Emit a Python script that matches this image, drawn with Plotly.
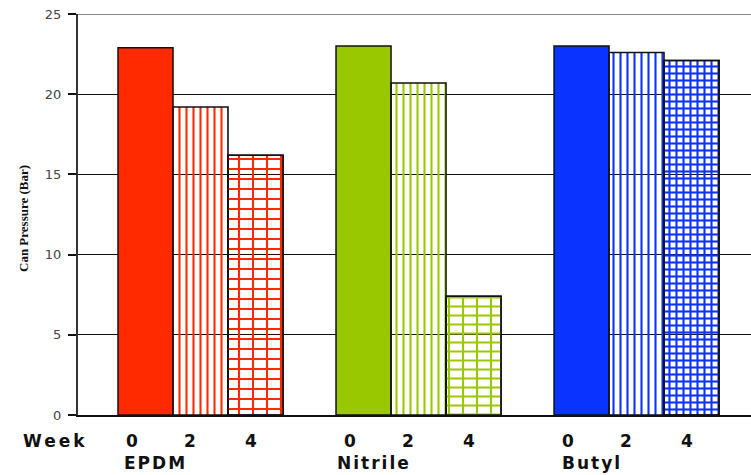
import plotly.graph_objects as go

# --- data -------------------------------------------------------------
materials = ["EPDM", "Nitrile", "Butyl"]
weeks = ["0", "2", "4"]
pressure_week0 = [22.9, 23.0, 23.0]
pressure_week2 = [19.2, 20.7, 22.6]
pressure_week4 = [16.2, 7.4, 22.1]
y_ticks = [0, 5, 10, 15, 20, 25]

# --- styling ----------------------------------------------------------
material_colors = ["#FF2A00", "#99C800", "#0A33FF"]
bargap = 0.243
n_weeks = len(weeks)
bar_w = (1 - bargap) / n_weeks          # width of one bar in axis units
x_pos = list(range(len(materials)))
outline = dict(color="#111111", width=1.5)

fig = go.Figure()

# week 0: solid fill
fig.add_trace(go.Bar(
    x=x_pos, y=pressure_week0, offsetgroup="w0",
    marker=dict(color=material_colors, line=outline),
))

# week 2: vertical hatching
fig.add_trace(go.Bar(
    x=x_pos, y=pressure_week2, offsetgroup="w2",
    marker=dict(
        color=material_colors, line=outline,
        pattern=dict(shape="|", fgcolor=material_colors, bgcolor="white",
                     size=7, solidity=0.3, fillmode="replace"),
    ),
))

# week 4: grid hatching built from vertical + horizontal layers
fig.add_trace(go.Bar(
    x=x_pos, y=pressure_week4, offsetgroup="w4",
    marker=dict(
        color=material_colors, line=outline,
        pattern=dict(shape="|", fgcolor=material_colors, bgcolor="white",
                     size=[14, 14, 7], solidity=[0.15, 0.15, 0.3],
                     fillmode="replace"),
    ),
))
fig.add_trace(go.Bar(
    x=x_pos, y=pressure_week4, offsetgroup="w4",
    marker=dict(
        color=material_colors, line=outline,
        pattern=dict(shape="-", fgcolor=material_colors,
                     bgcolor="rgba(0,0,0,0)",
                     size=[10, 9, 7], solidity=[0.2, 0.22, 0.3],
                     fillmode="replace"),
    ),
))

# --- category labels under the axis -----------------------------------
label_font = dict(family="DejaVu Sans", size=17, color="#111111", weight="bold")
annotations = [
    dict(text="<span style='letter-spacing:3px'>Week</span>", xref="paper", yref="paper",
         x=(55 - 78) / 673, y=0, yshift=-26, showarrow=False,
         xanchor="center", yanchor="middle", font=label_font),
]
week_nudge = [-14, -11, -5]      # px shift of week digits under each bar
name_nudge = -45                 # px shift of material names
for i, m in enumerate(materials):
    for k, w in enumerate(weeks):
        annotations.append(dict(
            text=w, xref="x", yref="paper",
            x=i + (k - (n_weeks - 1) / 2) * bar_w, y=0,
            xshift=week_nudge[k], yshift=-26, showarrow=False,
            xanchor="center", yanchor="middle", font=label_font))
    annotations.append(dict(
        text="<span style='letter-spacing:2px'>%s</span>" % m,
        xref="x", yref="paper", x=i, y=0, xshift=name_nudge, yshift=-48,
        showarrow=False, xanchor="center", yanchor="middle", font=label_font))

# rotated y-axis title
annotations.append(dict(
    text="Can Pressure (Bar)", xref="paper", yref="paper",
    x=(23 - 78) / 673, y=(415 - 219) / 401, textangle=-90, showarrow=False,
    xanchor="center", yanchor="middle",
    font=dict(family="Liberation Serif", size=13, color="#111111", weight="bold"),
))

fig.update_layout(
    width=751, height=475,
    margin=dict(l=78, r=0, t=14, b=60),
    paper_bgcolor="white", plot_bgcolor="white",
    barmode="group", bargap=bargap, bargroupgap=0,
    showlegend=False,
    annotations=annotations,
    shapes=[dict(type="line", xref="paper", yref="y", x0=0, x1=1, y0=25, y1=25,
                 line=dict(color="#8a8a8a", width=2), layer="above")],
    xaxis=dict(range=[-0.562, 2.525], showticklabels=False, ticks="",
               showgrid=False, zeroline=False,
               showline=True, linecolor="#111111", linewidth=1.5),
    yaxis=dict(range=[0, 25], tickvals=y_ticks, ticks="outside", ticklen=8,
               tickcolor="#111111", tickwidth=1.5,
               showgrid=True, gridcolor="#111111", gridwidth=1,
               zeroline=False, showline=True, linecolor="#333333", linewidth=2,
               tickfont=dict(family="DejaVu Sans", size=13, color="#444444"),
               ticklabelstandoff=4),
)

fig.write_html("out.html")
